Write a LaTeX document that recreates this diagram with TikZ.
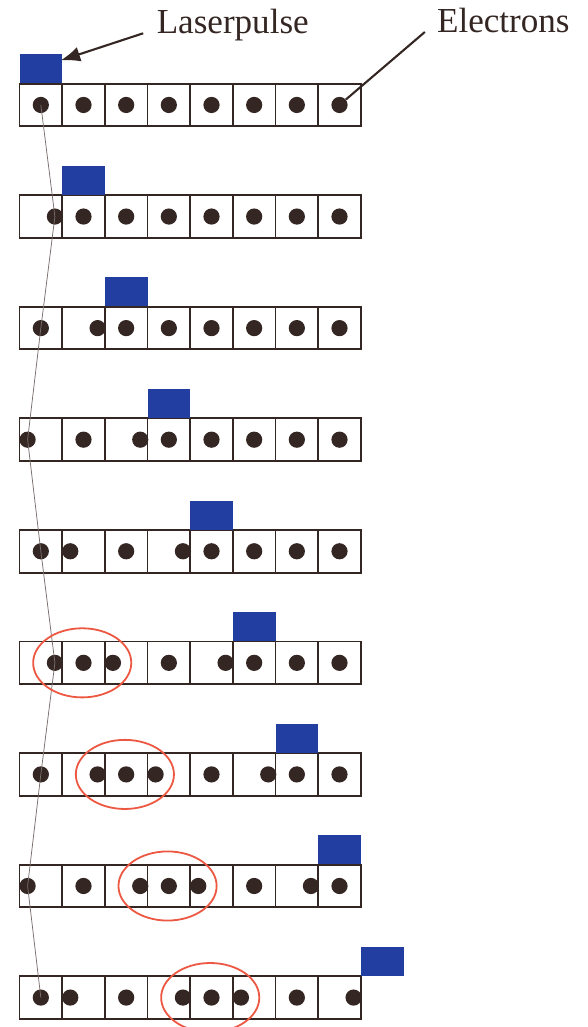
\documentclass[tikz,border=0pt]{standalone}
\usepackage{fontspec}
\setmainfont{Liberation Serif}
\usepackage{tikz}
\usetikzlibrary{arrows.meta}
\definecolor{pulseblue}{RGB}{33,62,160}
\definecolor{ink}{RGB}{52,38,34}
\definecolor{clusterred}{RGB}{236,88,66}
\definecolor{trackgray}{RGB}{120,110,108}

\begin{document}
\begin{tikzpicture}[font=\fontsize{23.4}{28}\selectfont,
		cellrow/.style={draw=ink, line width=1.3pt},
		pulse/.style={fill=pulseblue, minimum width=1cm, minimum height=0.68cm, inner sep=0pt, anchor=south west},
		electron/.style={circle, fill=ink, inner sep=0pt, minimum size=0.38cm},
		cluster/.style={draw=clusterred, line width=1.2pt},
		textlabel/.style={anchor=base west, inner sep=0pt, text=ink},
		pointer/.style={draw=ink, line width=1.4pt},
		track/.style={draw=trackgray, line width=0.5pt}]
		\useasboundingbox (-0.457,0) rectangle (13.32,-24.07);
		% one row per time step: cells, laser pulse, electrons
		\foreach \k/\xs in {1/{0.5,1.5,2.5,3.5,4.5,5.5,6.5,7.5},
				2/{0.83,1.5,2.5,3.5,4.5,5.5,6.5,7.5},
				3/{0.5,1.83,2.5,3.5,4.5,5.5,6.5,7.5},
				4/{0.19,1.5,2.83,3.5,4.5,5.5,6.5,7.5},
				5/{0.5,1.19,2.5,3.83,4.5,5.5,6.5,7.5},
				6/{0.83,1.5,2.19,3.5,4.83,5.5,6.5,7.5},
				7/{0.5,1.83,2.5,3.19,4.5,5.83,6.5,7.5},
				8/{0.19,1.5,2.83,3.5,4.19,5.5,6.83,7.5},
				9/{0.5,1.19,2.5,3.83,4.5,5.19,6.5,7.83}} {
			\pgfmathsetmacro\yc{-(2.46+2.615*(\k-1))}
			\draw[cellrow] (0,\yc-0.5) rectangle (8,\yc+0.5);
			\foreach \c in {1,...,7}
				\draw[cellrow] (\c,\yc-0.5) -- ++(0,1);
			\node[pulse] (pulse-\k) at (\k-1,\yc+0.5) {};
			\foreach \x [count=\i] in \xs
				\node[electron] (e-\k-\i) at (\x,\yc) {};
		}
		% path of the first electron
		\draw[track] (e-1-1.center) \foreach \k in {2,...,9} {-- (e-\k-1.center)};
		% bunched electrons
		\foreach \k/\c in {6/1,7/2,8/3,9/4}
			\draw[cluster] ({\c+0.47},{-(2.46+2.615*(\k-1))}) ellipse [x radius=1.15, y radius=0.81];
		\node[textlabel] (laser) at (3.21,-0.78) {Laserpulse};
		\node[textlabel] (electrons) at (9.78,-0.75) {Electrons};
		\draw[pointer,-{Latex[length=13pt,width=10pt]}] ([xshift=-3.1mm]laser.base west) -- ([xshift=-0.5mm,yshift=-1.5mm]pulse-1.north east);
		\draw[pointer] ([xshift=-2.8mm]electrons.base west) -- (e-1-8);
	\end{tikzpicture}
\end{document}
